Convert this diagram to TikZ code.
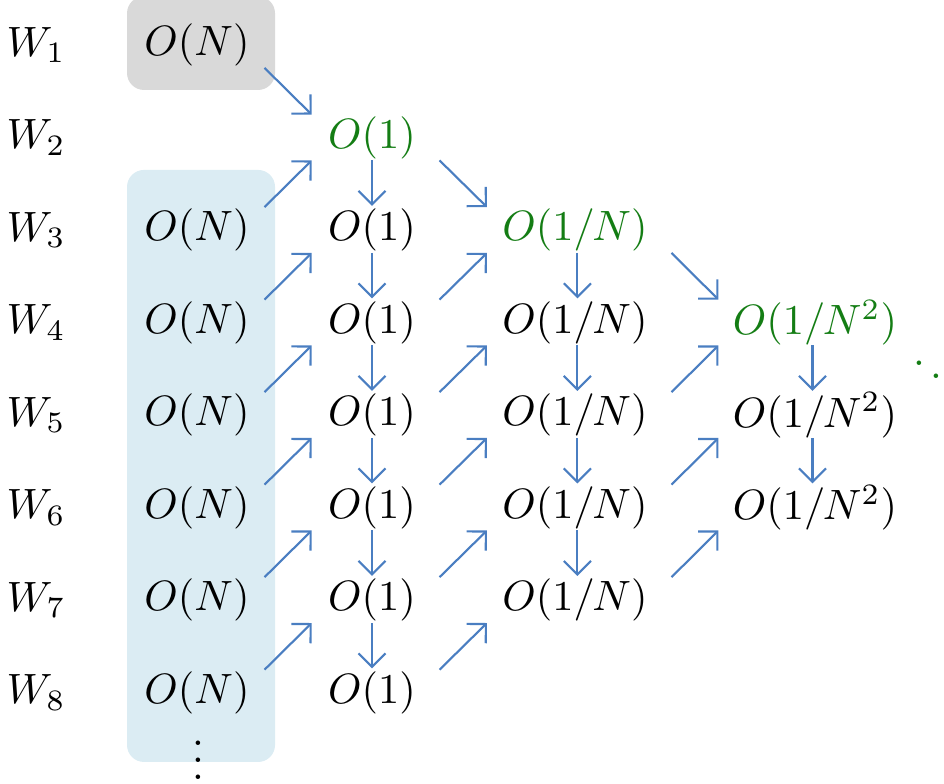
\documentclass[tikz,border=0pt]{standalone}
\usetikzlibrary{calc,arrows.meta}

\definecolor{arrowblue}{RGB}{74,126,193}
\definecolor{boxgray}{RGB}{217,217,217}
\definecolor{boxblue}{RGB}{219,236,243}
\definecolor{hotgreen}{RGB}{20,125,20}

\begin{document}
\begin{tikzpicture}[
    arr/.style = {-{Straight Barb[length=3.2pt,width=6.4pt]}, arrowblue, line width=0.5pt},
    hot/.style = {text=hotgreen},
  ]
  \useasboundingbox (0,0) rectangle (7.826,-6.499);

  % shaded boxes behind the first column
  \fill[boxgray, rounded corners=4pt] (1.053,0.03) rectangle (2.280,-0.746);
  \fill[boxblue, rounded corners=4pt] (1.053,-1.409) rectangle (2.280,-6.317);

  % row labels
  \foreach \r in {1,...,8}
    \node (w\r) at (0.30, {-0.373-0.767*(\r-1)}) {$W_{\r}$};

  % first column
  \node (n1) at (1.633,-0.373) {$O(N)$};
  \foreach \r in {3,...,8}
    \node (n\r) at (1.633, {-0.373-0.767*(\r-1)}) {$O(N)$};
  \node (vd) at (1.643,-6.20) {$\vdots$};

  % second column
  \node[hot] (a2) at (3.084,-1.140) {$O(1)$};
  \foreach \r in {3,...,8}
    \node (a\r) at (3.084, {-0.373-0.767*(\r-1)}) {$O(1)$};

  % third column
  \node[hot] (b3) at (4.767,-1.907) {$O(1/N)$};
  \foreach \r in {4,...,7}
    \node (b\r) at (4.767, {-0.373-0.767*(\r-1)}) {$O(1/N)$};

  % fourth column
  \node[hot] (c4) at (6.756,-2.674) {$O(1/N^2)$};
  \foreach \r in {5,6}
    \node (c\r) at (6.756, {-0.373-0.767*(\r-1)}) {$O(1/N^2)$};
  \node[hot] (dd) at (7.76,-3.01) {$\ddots$};

  % green path
  \draw[arr] ($(n1)+(0.56,-0.19)$) -- ($(a2)+(-0.50,0.19)$);
  \draw[arr] ($(a2)+(0.56,-0.19)$) -- ($(b3)+(-0.73,0.19)$);
  \draw[arr] ($(b3)+(0.80,-0.19)$) -- ($(c4)+(-0.80,0.19)$);

  % diagonal arrows up
  \foreach \r [evaluate=\r as \s using int(\r-1)] in {3,...,8}
    \draw[arr] ($(n\r)+(0.56,0.19)$) -- ($(a\s)+(-0.50,-0.19)$);
  \foreach \r [evaluate=\r as \s using int(\r-1)] in {4,...,8}
    \draw[arr] ($(a\r)+(0.56,0.19)$) -- ($(b\s)+(-0.73,-0.19)$);
  \foreach \r [evaluate=\r as \s using int(\r-1)] in {5,6,7}
    \draw[arr] ($(b\r)+(0.80,0.19)$) -- ($(c\s)+(-0.80,-0.19)$);

  % arrows down
  \foreach \r [evaluate=\r as \s using int(\r+1)] in {2,...,7}
    \draw[arr] ($(a\r)+(0,-0.19)$) -- ($(a\s)+(0,0.20)$);
  \foreach \r [evaluate=\r as \s using int(\r+1)] in {3,...,6}
    \draw[arr] ($(b\r)+(0.02,-0.19)$) -- ($(b\s)+(0.02,0.20)$);
  \foreach \r [evaluate=\r as \s using int(\r+1)] in {4,5}
    \draw[arr] ($(c\r)+(-0.02,-0.19)$) -- ($(c\s)+(-0.02,0.20)$);
\end{tikzpicture}
\end{document}
